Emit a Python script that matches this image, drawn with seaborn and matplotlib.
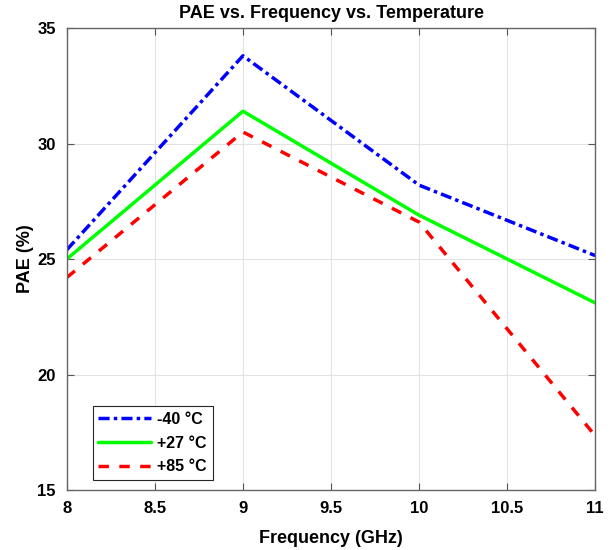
import numpy as np
import pandas as pd
import seaborn as sb
from matplotlib import pyplot as plt

# PAE vs frequency at three temperatures
freq = [8, 9, 10, 11]
pae_m40 = [25.4, 33.8, 28.2, 25.15]
pae_p27 = [25.0, 31.4, 26.9, 23.1]
pae_p85 = [24.2, 30.5, 26.6, 17.35]
labels = ["-40 \u00b0C", "+27 \u00b0C", "+85 \u00b0C"]

df = pd.DataFrame({"freq": freq * 3,
                   "pae": pae_m40 + pae_p27 + pae_p85,
                   "temp": [labels[0]] * 4 + [labels[1]] * 4 + [labels[2]] * 4})

sb.set_style("ticks")
plt.rcParams['font.family'] = ['Liberation Sans', 'DejaVu Sans']
plt.rcParams['font.weight'] = 'bold'
plt.rcParams['text.color'] = 'black'
plt.rcParams['axes.labelcolor'] = 'black'
plt.rcParams['xtick.color'] = 'black'
plt.rcParams['ytick.color'] = 'black'

fig = plt.figure(figsize=(6.13, 5.5), dpi=100)
ax = fig.add_axes([0.109, 0.109, 0.862, 0.840])

styles = {labels[0]: ((0, (3.2, 1.2, 1, 1.2)), "#0000ff"),
          labels[1]: ("-", "#00ff00"),
          labels[2]: ((0, (3, 3)), "#ff0000")}
for lab in labels:
    ls, col = styles[lab]
    sb.lineplot(data=df[df.temp == lab], x="freq", y="pae", ax=ax,
                color=col, linestyle=ls, linewidth=2.5, label=lab)

ax.set_xlim(8, 11)
ax.set_ylim(15, 35)
ax.set_xticks([8, 8.5, 9, 9.5, 10, 10.5, 11])
ax.set_xticklabels(["8", "8.5", "9", "9.5", "10", "10.5", "11"])
ax.set_yticks([15, 20, 25, 30, 35])
ax.grid(True, color="#e3e3e3", linewidth=0.8)
ax.tick_params(direction="in", labelsize=12, length=5, pad=8, top=True, right=True, color="#555555")
for s in ax.spines.values():
    s.set_visible(True)
    s.set_color("#666666")
    s.set_linewidth(1.0)

ax.set_xlabel("Frequency (GHz)", fontsize=13, fontweight="bold", labelpad=10)
ax.set_ylabel("PAE (%)", fontsize=13, fontweight="bold", labelpad=2)
ax.set_title("PAE vs. Frequency vs. Temperature", fontsize=13, fontweight="bold", pad=7)

leg = ax.legend(loc="lower left", bbox_to_anchor=(0.049, 0.022), borderaxespad=0,
                fontsize=11.5, handlelength=3.3, fancybox=False, framealpha=1,
                borderpad=0.35, labelspacing=0.55, handletextpad=0.4)
leg.get_frame().set_edgecolor("#262626")
leg.get_frame().set_linewidth(0.8)

plt.savefig("out.png", dpi=100)
